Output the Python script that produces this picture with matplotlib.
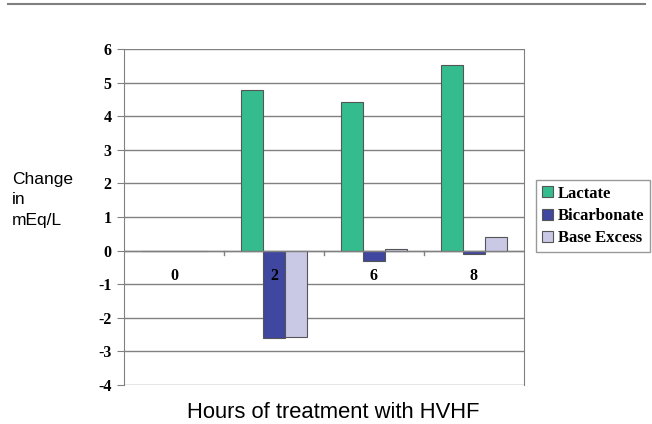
import matplotlib
matplotlib.use("Agg")
import matplotlib.pyplot as plt
import numpy as np

categories = ["0", "2", "6", "8"]
lactate = [0, 4.78, 4.43, 5.52]
bicarbonate = [0, -2.6, -0.32, -0.1]
base_excess = [0, -2.57, 0.05, 0.4]
yticks = [-4, -3, -2, -1, 0, 1, 2, 3, 4, 5, 6]

c_lac = "#34BC8F"
c_bic = "#3F47A0"
c_be = "#C9C9E6"

fig = plt.figure(figsize=(6.52, 4.24), dpi=100)
ax = fig.add_axes([124/652, 1-385/424, 400/652, 336/424])

x = np.arange(len(categories))
w = 0.22
kw = dict(width=w, edgecolor="#555555", linewidth=0.8, zorder=3)
ax.bar(x - w, lactate, color=c_lac, label="Lactate", **kw)
ax.bar(x, bicarbonate, color=c_bic, label="Bicarbonate", **kw)
ax.bar(x + w, base_excess, color=c_be, label="Base Excess", **kw)

ax.set_xlim(-0.5, len(categories) - 0.5)
ax.set_ylim(-4, 6)
ax.set_yticks(yticks)
ax.set_yticklabels([str(t) for t in yticks], fontfamily="Liberation Serif",
                   fontweight="bold", fontsize=11.5)
for t in yticks:
    ax.axhline(t, color="#808080", linewidth=1.0, zorder=1)
ax.axhline(0, color="#808080", linewidth=1.0, zorder=4)
ax.set_xticks([])
for i in range(1, len(categories)):
    ax.plot([i - 0.5, i - 0.5], [0, -0.12], color="#808080", linewidth=1.0, zorder=4)
for i, c in enumerate(categories):
    ax.text(i, -0.75, c, ha="center", va="center", fontfamily="Liberation Serif",
            fontweight="bold", fontsize=11.5, zorder=5)

for s in ["top", "bottom"]:
    ax.spines[s].set_visible(False)
ax.spines["left"].set_color("#808080")
ax.spines["right"].set_color("#808080")
ax.tick_params(axis="y", length=5, color="#808080", pad=4)

leg = ax.legend(loc="center left", bbox_to_anchor=(1.03, 0.503), frameon=True,
                fancybox=False, edgecolor="#808080", handlelength=0.65,
                handleheight=0.65, handletextpad=0.3, borderpad=0.35,
                labelspacing=0.38, borderaxespad=0,
                prop={"family": "Liberation Serif", "weight": "bold", "size": 12})
leg.get_frame().set_linewidth(1.0)

fig.text(12/652, 1-200/424, "Change\nin\nmEq/L", ha="left", va="center",
         fontfamily="Liberation Sans", fontsize=12.5, linespacing=1.45)
fig.text(333/652, 1-413/424, "Hours of treatment with HVHF", ha="center", va="center",
         fontfamily="Liberation Sans", fontsize=15.8)

fig.add_artist(plt.Line2D([8/652, 645/652], [1-4/424, 1-4/424], color="#808080",
                          linewidth=1.5))

fig.savefig("out.png", dpi=100)
